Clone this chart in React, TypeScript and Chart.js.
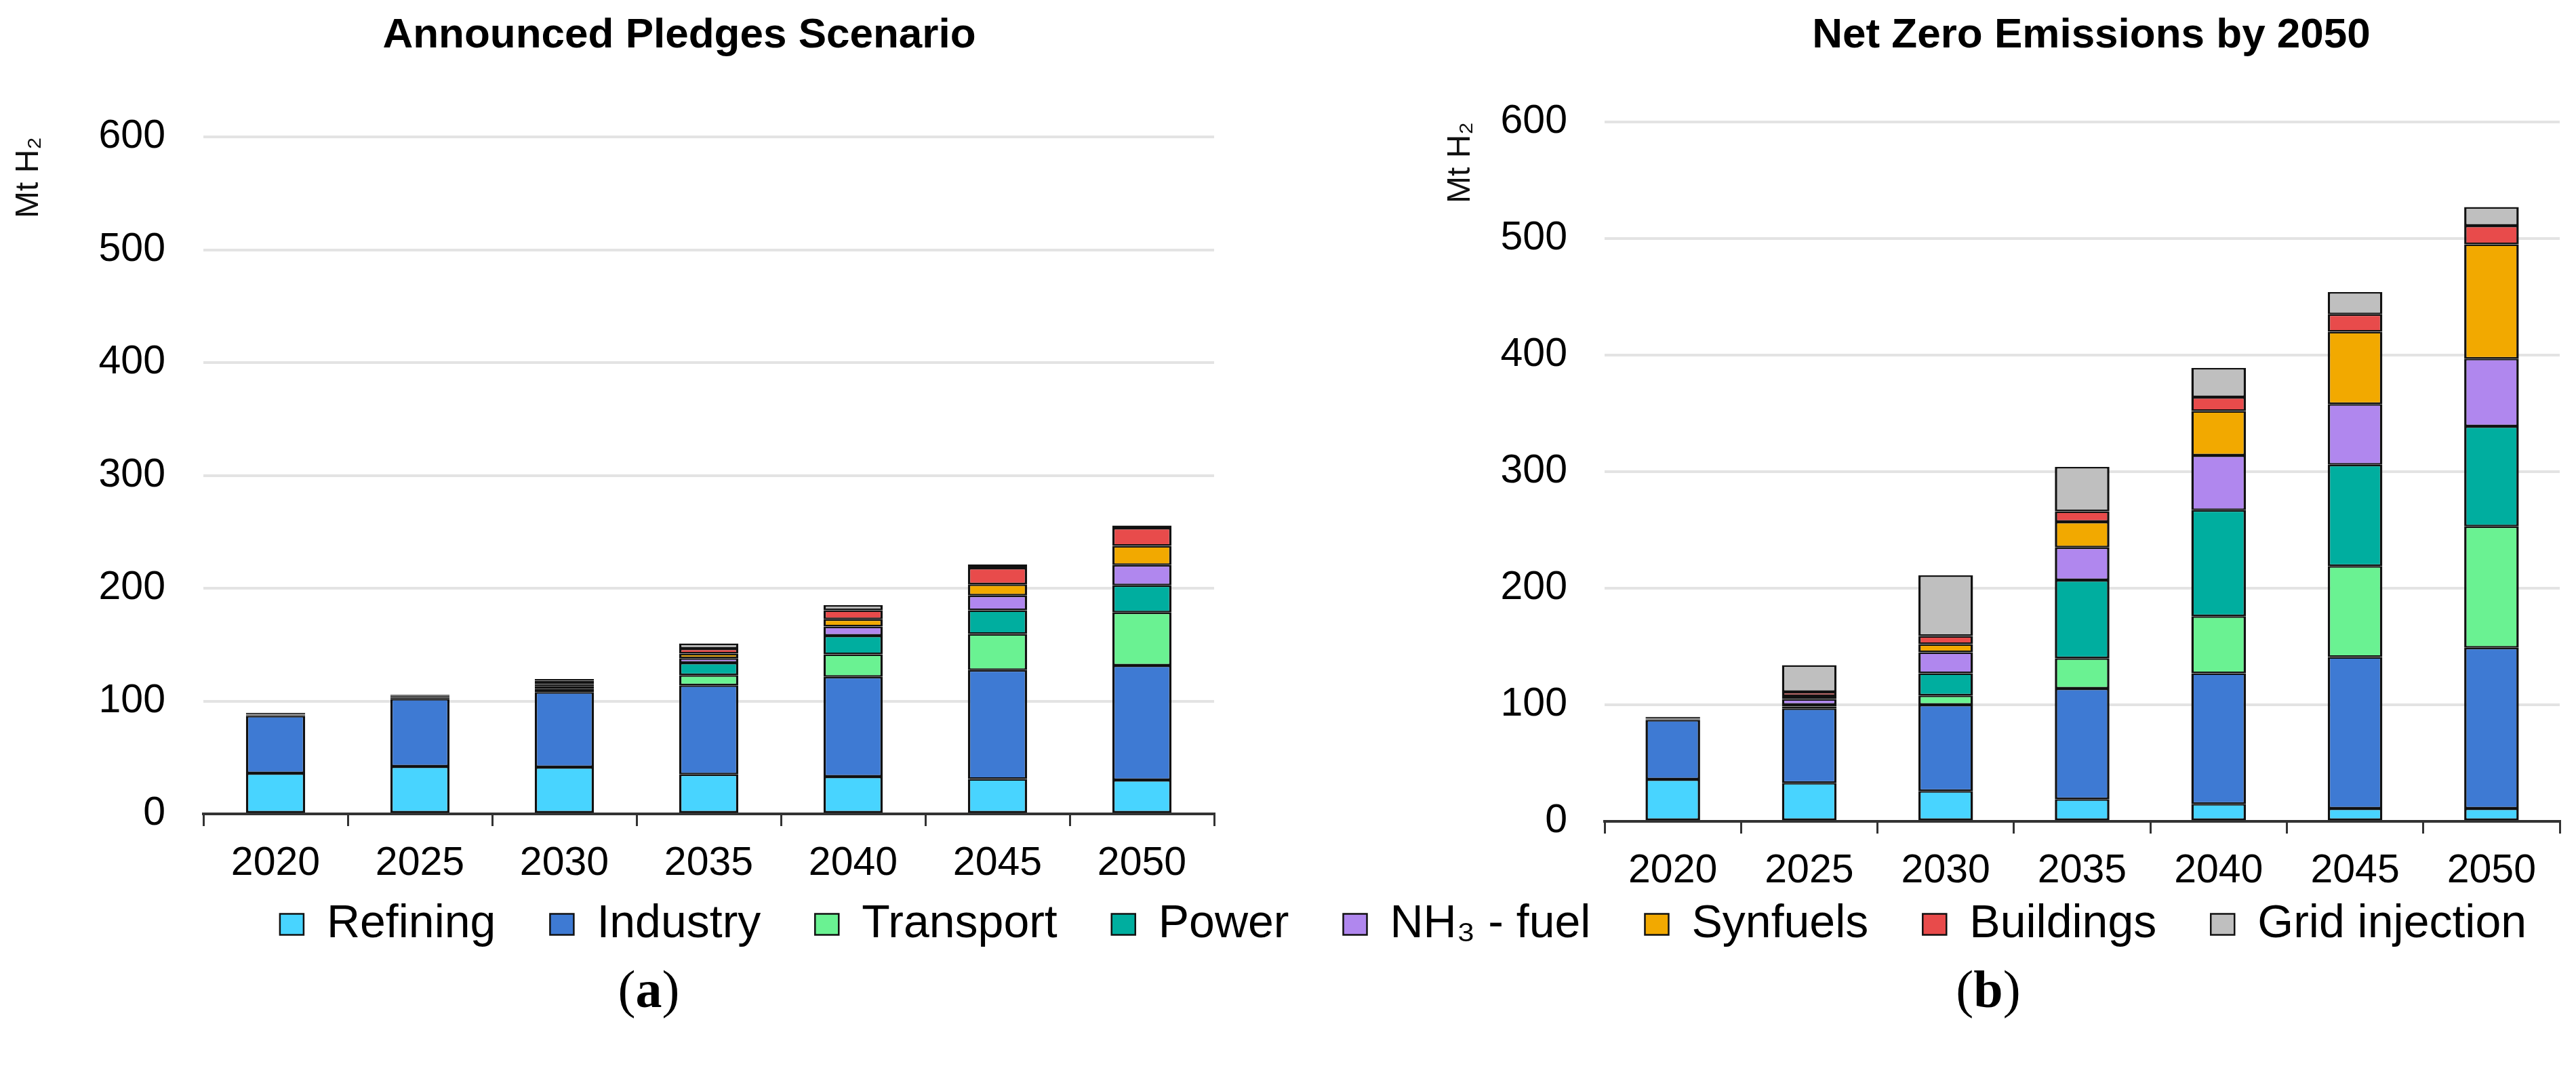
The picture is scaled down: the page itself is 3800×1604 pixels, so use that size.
import React, { useEffect, useRef } from "react";
import { Chart, registerables } from "chart.js";

Chart.register(...registerables);

// ---------------- data ----------------
const years = ["2020", "2025", "2030", "2035", "2040", "2045", "2050"];

const seriesNames = [
  "Refining",
  "Industry",
  "Transport",
  "Power",
  "NH₃ - fuel",
  "Synfuels",
  "Buildings",
  "Grid injection",
];

const seriesColors = [
  "#48D4FF",
  "#3E7AD3",
  "#6AF292",
  "#00AE9F",
  "#B087EE",
  "#F2A900",
  "#E84B4B",
  "#BFBFBF",
];

// Announced Pledges Scenario (Mt H2)
const apsRefining = [36, 42, 41.5, 35, 33, 31, 30];
const apsIndustry = [51, 60, 66.5, 79, 88.5, 96.5, 101.5];
const apsTransport = [0.5, 1, 3, 9, 20, 32, 47];
const apsPower = [0.5, 1, 2, 11, 16.5, 21, 24];
const apsNH3 = [0, 0.5, 2, 4, 8, 13, 18];
const apsSynfuels = [0, 0, 1.5, 4, 6.5, 10, 17];
const apsBuildings = [0.5, 0.5, 1.5, 4.5, 8, 14.5, 16];
const apsGrid = [1, 0.5, 1.5, 4.5, 4.5, 3, 2];

// Net Zero Emissions by 2050 (Mt H2)
const nzeRefining = [36, 33, 26, 19, 15, 11, 11];
const nzeIndustry = [51, 64, 74, 95, 112, 130, 138];
const nzeTransport = [0.5, 1.5, 8, 26, 49, 78, 104];
const nzePower = [0.5, 1.5, 19, 67, 91, 87, 86];
const nzeNH3 = [0, 5, 18, 28, 47, 52, 58];
const nzeSynfuels = [0, 2.5, 7, 22, 38, 62, 98];
const nzeBuildings = [0.5, 3.5, 7, 9, 12, 15, 16];
const nzeGrid = [1, 23, 52, 38, 25, 19, 16];

const titleAPS = "Announced Pledges Scenario";
const titleNZE = "Net Zero Emissions by 2050";
const yAxisLabel = "Mt H₂";
const yMin = 0;
const yMax = 600;
const yStep = 100;
const panelLabels = ["a", "b"];

// ---------------- styling ----------------
const FONT = "'Liberation Sans', Arial, Helvetica, sans-serif";
const BORDER = "#111111";

function makeDatasets(values: number[][], barPct: number) {
  return seriesNames.map((name, i) => ({
    label: name,
    data: values[i],
    backgroundColor: seriesColors[i],
    borderColor: BORDER,
    borderWidth: { top: 2.5, bottom: 2.5, left: 3.5, right: 3.5 },
    borderSkipped: false as const,
    barPercentage: barPct,
    categoryPercentage: 1,
  }));
}

type PanelOpts = {
  title: string;
  values: number[][];
  barPct: number;
  yWidth: number;
  tickPad: number;
  rightSpace: number;
  titlePadBottom: number;
};

function makePanelConfig(p: PanelOpts): any {
  return {
    type: "bar",
    data: { labels: years, datasets: makeDatasets(p.values, p.barPct) },
    options: {
      responsive: false,
      animation: false,
      devicePixelRatio: 1,
      events: [],
      layout: { padding: 0 },
      plugins: {
        legend: { display: false },
        tooltip: { enabled: false },
        title: {
          display: true,
          text: p.title,
          fullSize: true,
          color: "#000",
          font: { family: FONT, size: 62, weight: "bold", lineHeight: 1.2 },
          padding: { top: 16, bottom: p.titlePadBottom },
        },
      },
      scales: {
        x: {
          stacked: true,
          offset: true,
          grid: {
            display: true,
            offset: true,
            drawOnChartArea: false,
            drawTicks: true,
            tickLength: 18,
            color: "#333",
            lineWidth: 3,
          },
          border: { display: true, color: "#333", width: 4 },
          ticks: { padding: 20, color: "#000", font: { family: FONT, size: 59 } },
          afterFit: (scale: any) => {
            scale.height = 140;
          },
        },
        y: {
          stacked: true,
          min: yMin,
          max: yMax,
          grid: { color: "#e3e3e3", lineWidth: 4, drawTicks: false },
          border: { display: false },
          ticks: {
            stepSize: yStep,
            padding: p.tickPad,
            color: "#000",
            font: { family: FONT, size: 59 },
          },
          title: {
            display: true,
            text: yAxisLabel,
            align: "end",
            color: "#111",
            font: { family: FONT, size: 48 },
            padding: { top: 14, bottom: 0 },
          },
          afterFit: (scale: any) => {
            scale.width = p.yWidth;
          },
        },
        // empty spacer on the right so the panel title sits where the original has it
        ySpace: {
          type: "linear",
          position: "right",
          display: true,
          grid: { display: false, drawOnChartArea: false, drawTicks: false },
          border: { display: false },
          ticks: { display: false },
          afterFit: (scale: any) => {
            scale.width = p.rightSpace;
          },
        },
      },
    },
  };
}

function makeLegendConfig(): any {
  return {
    type: "bar",
    data: {
      labels: [],
      datasets: seriesNames.map((name, i) => ({
        label: name,
        data: [],
        backgroundColor: seriesColors[i],
        borderColor: BORDER,
        borderWidth: 2.5,
      })),
    },
    options: {
      responsive: false,
      animation: false,
      devicePixelRatio: 1,
      events: [],
      layout: { padding: 0 },
      scales: { x: { display: false }, y: { display: false } },
      plugins: {
        tooltip: { enabled: false },
        title: { display: false },
        legend: {
          display: true,
          position: "top",
          align: "center",
          labels: {
            color: "#000",
            font: { family: FONT, size: 68 },
            boxWidth: 35,
            boxHeight: 31,
            padding: 80,
          },
        },
      },
    },
  };
}

function ChartCanvas(props: {
  make: () => any;
  left: number;
  top: number;
  width: number;
  height: number;
}) {
  const ref = useRef<HTMLCanvasElement | null>(null);
  useEffect(() => {
    if (!ref.current) return;
    const chart = new Chart(ref.current, props.make());
    return () => chart.destroy();
  }, []);
  return (
    <canvas
      ref={ref}
      width={props.width}
      height={props.height}
      style={{
        position: "absolute",
        left: props.left,
        top: props.top,
        width: props.width,
        height: props.height,
      }}
    />
  );
}

export default function App() {
  useEffect(() => {
    document.body.style.overflow = "hidden";
  }, []);

  const apsValues = [
    apsRefining,
    apsIndustry,
    apsTransport,
    apsPower,
    apsNH3,
    apsSynfuels,
    apsBuildings,
    apsGrid,
  ];
  const nzeValues = [
    nzeRefining,
    nzeIndustry,
    nzeTransport,
    nzePower,
    nzeNH3,
    nzeSynfuels,
    nzeBuildings,
    nzeGrid,
  ];

  const labelStyle = (cx: number): React.CSSProperties => ({
    position: "absolute",
    left: cx - 100,
    top: 1421,
    width: 200,
    textAlign: "center",
    fontFamily: "'Liberation Serif', 'Times New Roman', serif",
    fontSize: 78,
    lineHeight: "78px",
    color: "#000",
  });

  return (
    <div
      style={{
        position: "absolute",
        left: 0,
        top: 0,
        width: 3800,
        height: 1604,
        overflow: "hidden",
        background: "#fff",
      }}
    >
      <ChartCanvas
        make={() =>
          makePanelConfig({
            title: titleAPS,
            values: apsValues,
            barPct: 0.41,
            yWidth: 300,
            tickPad: 56,
            rightSpace: 213,
            titlePadBottom: 111.6,
          })
        }
        left={0}
        top={0}
        width={2004}
        height={1341}
      />
      <ChartCanvas
        make={() =>
          makePanelConfig({
            title: titleNZE,
            values: nzeValues,
            barPct: 0.4,
            yWidth: 255,
            tickPad: 55,
            rightSpace: 282,
            titlePadBottom: 89.6,
          })
        }
        left={2112}
        top={0}
        width={1946}
        height={1352}
      />
      <ChartCanvas make={makeLegendConfig} left={170} top={1250} width={3800} height={300} />
      <div style={labelStyle(957)}>
        (<b>{panelLabels[0]}</b>)
      </div>
      <div style={labelStyle(2933)}>
        (<b>{panelLabels[1]}</b>)
      </div>
    </div>
  );
}
